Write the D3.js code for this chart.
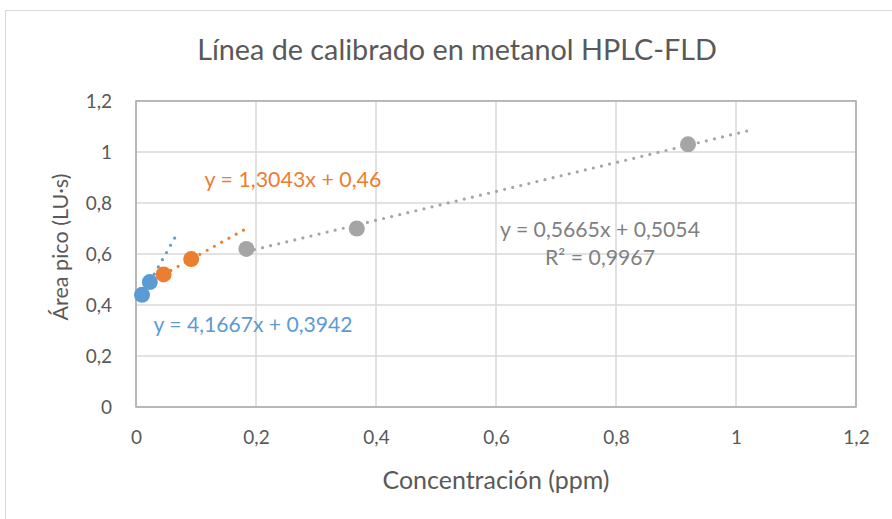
<!DOCTYPE html>
<html><head><meta charset="utf-8">
<script src="https://cdn.jsdelivr.net/npm/d3@7/dist/d3.min.js"></script>
<style>body{margin:0;background:#fff}svg{display:block}text{font-family:Lato,"Open Sans",sans-serif}</style>
</head><body><svg id="c" width="892" height="519"></svg>
<script>
const title = "Línea de calibrado en metanol HPLC-FLD";
const xTitle = "Concentración (ppm)";
const yTitle = "Área pico (LU·s)";
const xTicks = [0, 0.2, 0.4, 0.6, 0.8, 1, 1.2];
const yTicks = [0, 0.2, 0.4, 0.6, 0.8, 1, 1.2];
const seriesNames = ["azul", "naranja", "gris"];
const seriesColors = ["#5B9BD5", "#ED7D31", "#A5A5A5"];
const blueX = [0.01, 0.023];
const blueY = [0.44, 0.49];
const orangeX = [0.046, 0.092];
const orangeY = [0.52, 0.58];
const grayX = [0.184, 0.368, 0.92];
const grayY = [0.62, 0.70, 1.03];
const slopes = [4.1667, 1.3043, 0.5665];
const intercepts = [0.3942, 0.46, 0.5054];
const trendStart = [0.01, 0.046, 0.184];
const trendEnd = [0.0667, 0.185, 1.02];
const eqLabels = ["y = 4,1667x + 0,3942", "y = 1,3043x + 0,46", "y = 0,5665x + 0,5054"];
const r2Label = "R² = 0,9967";

const svg = d3.select("#c");
const L = 136, R = 856, T = 101, B = 407;
const x = d3.scaleLinear().domain([0, 1.2]).range([L, R]);
const y = d3.scaleLinear().domain([0, 1.2]).range([B, T]);
const fmt = d => d3.format(".1~f")(d).replace(".", ",");
const txt = "#595959";

// outer chart border
svg.append("rect").attr("x", 5.5).attr("y", 10.5).attr("width", 900).attr("height", 520)
  .attr("fill", "#fff").attr("stroke", "#d9d9d9");

function fit(sel, w) {
  const cur = sel.node().getComputedTextLength();
  const fs = parseFloat(sel.attr("font-size"));
  sel.attr("font-size", fs * w / cur);
}

// gridlines
svg.append("g").selectAll("line").data(yTicks).join("line")
  .attr("x1", L).attr("x2", R).attr("y1", d => y(d)).attr("y2", d => y(d))
  .attr("stroke", "#d9d9d9").attr("stroke-width", 1.5);
svg.append("g").selectAll("line").data(xTicks).join("line")
  .attr("y1", T).attr("y2", B).attr("x1", d => x(d)).attr("x2", d => x(d))
  .attr("stroke", "#d9d9d9").attr("stroke-width", 1.5);
// plot frame
svg.append("rect").attr("x", L).attr("y", T).attr("width", R - L).attr("height", B - T)
  .attr("fill", "none").attr("stroke", "#aaaaaa").attr("stroke-width", 1.5);

// axes via d3 axis (labels only)
const xa = svg.append("g").attr("transform", `translate(0,${B})`)
  .call(d3.axisBottom(x).tickValues(xTicks).tickFormat(fmt).tickSize(0).tickPadding(24));
const ya = svg.append("g").attr("transform", `translate(${L},0)`)
  .call(d3.axisLeft(y).tickValues(yTicks).tickFormat(fmt).tickSize(0).tickPadding(24));
[xa, ya].forEach(a => {
  a.select(".domain").remove();
  a.selectAll("text").attr("font-family", "Lato,'Open Sans',sans-serif").attr("font-size", 19).attr("fill", txt);
});
ya.selectAll("text").attr("dy", "0.35em");
xa.selectAll("text").attr("dy", "0.71em");

// trendlines
const trendData = slopes.map((m, i) => ({m, b: intercepts[i], x0: trendStart[i], x1: trendEnd[i], c: seriesColors[i]}));
svg.append("g").selectAll("line").data(trendData).join("line")
  .attr("x1", d => x(d.x0)).attr("y1", d => y(d.m * d.x0 + d.b))
  .attr("x2", d => x(d.x1)).attr("y2", d => y(d.m * d.x1 + d.b))
  .attr("stroke", d => d.c).attr("stroke-width", 3.2).attr("stroke-linecap", "round")
  .attr("stroke-dasharray", "0 8.3");

// points
const pts = [[blueX, blueY], [orangeX, orangeY], [grayX, grayY]];
pts.forEach(([xs, ys], i) => {
  svg.append("g").selectAll("circle").data(xs.map((v, j) => [v, ys[j]])).join("circle")
    .attr("cx", d => x(d[0])).attr("cy", d => y(d[1])).attr("r", 8)
    .attr("fill", seriesColors[i]);
});

// equation labels
const eqPos = [[253, 325, 199], [293, 180, 177], [600, 230, 200]];
eqLabels.forEach((t, i) => {
  const s = svg.append("text").attr("x", eqPos[i][0]).attr("y", eqPos[i][1]).attr("dy", "0.35em")
    .attr("text-anchor", "middle").attr("font-size", 18).attr("fill", seriesColors[i] === "#A5A5A5" ? "#808080" : seriesColors[i]).text(t);
  fit(s, eqPos[i][2]);
});
const r2 = svg.append("text").attr("x", 600).attr("y", 258).attr("dy", "0.35em")
  .attr("text-anchor", "middle").attr("font-size", 18).attr("fill", "#808080").text(r2Label);
fit(r2, 110);

// titles
const tt = svg.append("text").attr("x", 457).attr("y", 60).attr("text-anchor", "middle")
  .attr("font-size", 26).attr("fill", txt).text(title);
fit(tt, 520);
const xt = svg.append("text").attr("x", 496).attr("y", 480).attr("dy", "0.35em").attr("text-anchor", "middle")
  .attr("font-size", 20).attr("fill", txt).text(xTitle);
fit(xt, 227);
const yt = svg.append("text").attr("transform", "translate(60,247) rotate(-90)").attr("dy", "0.35em")
  .attr("text-anchor", "middle").attr("font-size", 20).attr("fill", txt).text(yTitle);
fit(yt, 147);
</script></body></html>
